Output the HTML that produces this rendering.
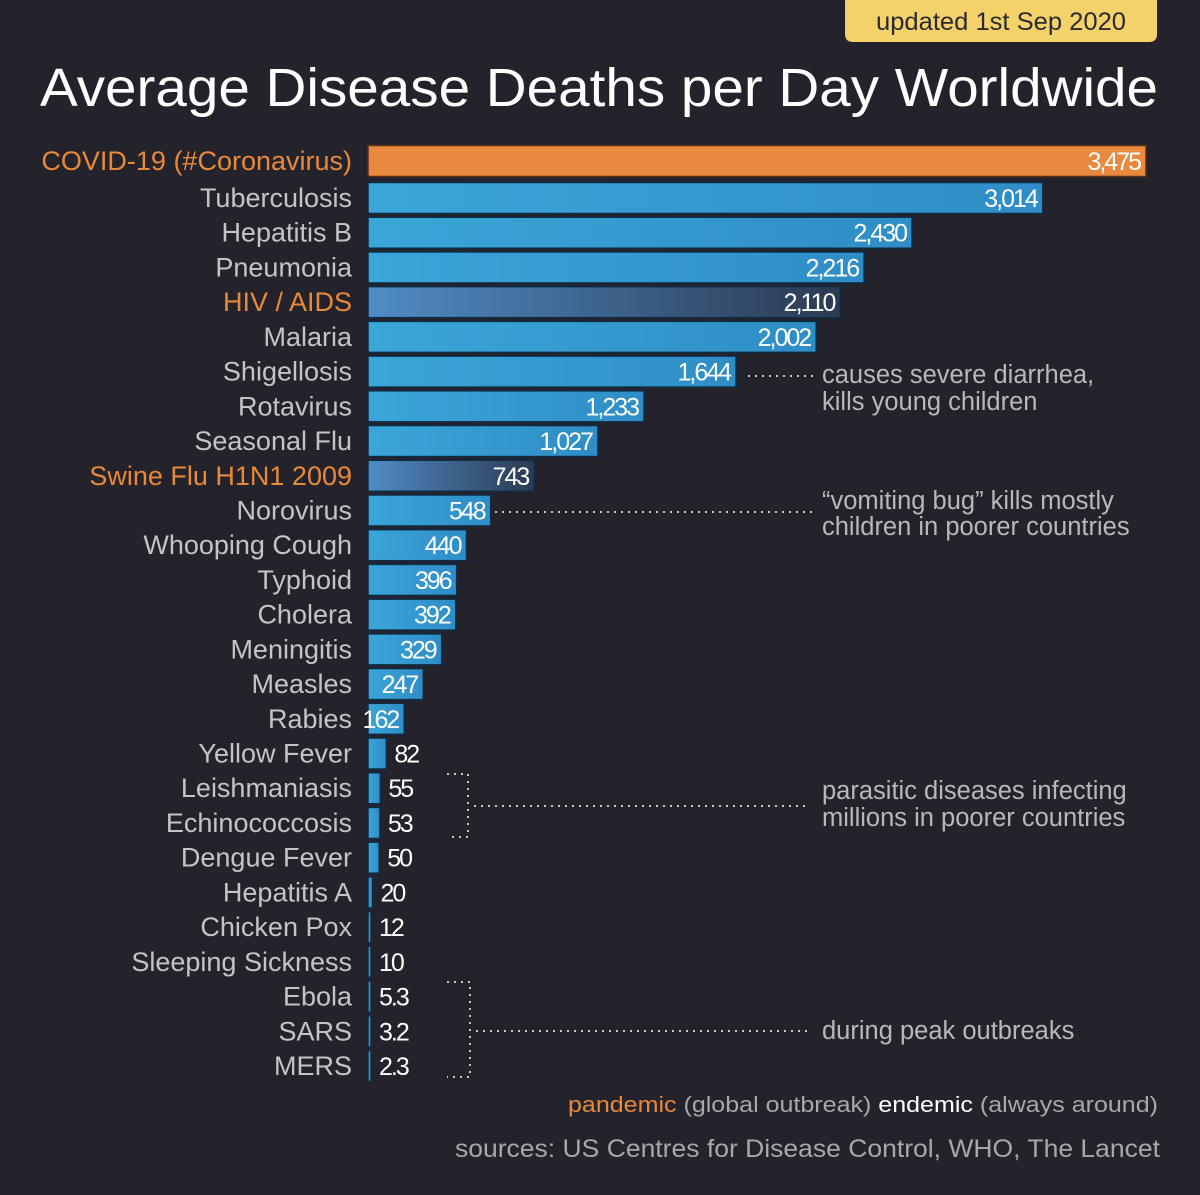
<!DOCTYPE html>
<html><head><meta charset="utf-8">
<style>
html,body{margin:0;padding:0;background:#24232c;}
svg{display:block;font-family:"Liberation Sans",sans-serif;}
.lbl{font-size:27px;fill:#c4c4c8;text-anchor:end;}
.val{font-family:"Liberation Sans Narrow","Liberation Sans",sans-serif;font-size:25px;fill:#fff;letter-spacing:-2px;}
.ann{font-size:25.5px;fill:#b8b8bc;}
.dot{stroke:#c8c8c8;stroke-width:2;stroke-dasharray:2 5;fill:none;}
</style></head>
<body>
<svg id="chart" width="1200" height="1195" viewBox="0 0 1200 1195" xmlns="http://www.w3.org/2000/svg">
<defs>
<linearGradient id="gBlue" x1="0" x2="1"><stop offset="0" stop-color="#3ba6d8"/><stop offset="1" stop-color="#2f8dc6"/></linearGradient>
<linearGradient id="gDark" x1="0" x2="1"><stop offset="0" stop-color="#4f8cc6"/><stop offset="1" stop-color="#2c3a52"/></linearGradient>
</defs>
<rect x="0" y="0" width="1200" height="1195" fill="#24232c"/>
<path d="M845 0 H1157 V34 Q1157 42 1149 42 H853 Q845 42 845 34 Z" fill="#f4d26a"/>
<text x="1001" y="30" font-size="25" fill="#2a2a30" text-anchor="middle" textLength="250" lengthAdjust="spacingAndGlyphs">updated 1st Sep 2020</text>
<text x="40" y="106" font-size="54" fill="#fff" textLength="1118" lengthAdjust="spacingAndGlyphs">Average Disease Deaths per Day Worldwide</text>
<g id="bars"></g>
<g>
<line class="dot" x1="748" y1="376" x2="815" y2="376"/>
<text class="ann" x="822" y="383">causes severe diarrhea,</text>
<text class="ann" x="822" y="410">kills young children</text>
<line class="dot" x1="495" y1="512" x2="812" y2="512"/>
<text class="ann" x="822" y="509">“vomiting bug” kills mostly</text>
<text class="ann" x="822" y="535">children in poorer countries</text>
<polyline class="dot" points="447,774 468,774 468,837 447,837"/>
<line class="dot" x1="474" y1="806" x2="810" y2="806"/>
<text class="ann" x="822" y="799">parasitic diseases infecting</text>
<text class="ann" x="822" y="826">millions in poorer countries</text>
<polyline class="dot" points="447,982 470,982 470,1077 447,1077"/>
<line class="dot" x1="476" y1="1031" x2="810" y2="1031"/>
<text class="ann" x="822" y="1039">during peak outbreaks</text>
</g>
<g font-size="22">
<text x="568" y="1112" textLength="590" lengthAdjust="spacingAndGlyphs"><tspan fill="#e8893a">pandemic</tspan><tspan fill="#a8a8ac"> (global outbreak)</tspan><tspan fill="#fff">   endemic</tspan><tspan fill="#a8a8ac"> (always around)</tspan></text>
</g>
<text x="455" y="1157" font-size="25" fill="#a8a8ac" textLength="705" lengthAdjust="spacingAndGlyphs">sources: US Centres for Disease Control, WHO, The Lancet</text>
</svg>
<script>
const categories = ["COVID-19 (#Coronavirus)","Tuberculosis","Hepatitis B","Pneumonia","HIV / AIDS","Malaria","Shigellosis","Rotavirus","Seasonal Flu","Swine Flu H1N1 2009","Norovirus","Whooping Cough","Typhoid","Cholera","Meningitis","Measles","Rabies","Yellow Fever","Leishmaniasis","Echinococcosis","Dengue Fever","Hepatitis A","Chicken Pox","Sleeping Sickness","Ebola","SARS","MERS"];
const values = [3475,3014,2430,2216,2110,2002,1644,1233,1027,743,548,440,396,392,329,247,162,82,55,53,50,20,12,10,5.3,3.2,2.3];
const valueLabels = ["3,475","3,014","2,430","2,216","2,110","2,002","1,644","1,233","1,027","743","548","440","396","392","329","247","162","82","55","53","50","20","12","10","5.3","3.2","2.3"];
const pandemic = [true,false,false,false,true,false,false,false,false,true,false,false,false,false,false,false,false,false,false,false,false,false,false,false,false,false,false];

const NS = "http://www.w3.org/2000/svg";
const x0 = 368, scale = 778 / 3475;
const xPos = v => x0 + Math.max(3, v * scale);
const yCenter = i => i === 0 ? 161 : 198 + (i - 1) * 34.72;
const g = document.getElementById('bars');
categories.forEach((c, i) => {
  const yc = yCenter(i), h = 31;
  const xe = xPos(values[i]);
  const r = document.createElementNS(NS, 'rect');
  
  
  r.setAttribute('x', x0); r.setAttribute('y', yc - h / 2);
  r.setAttribute('width', xe - x0); r.setAttribute('height', h);
  r.setAttribute('fill', i === 0 ? '#e8893f' : (pandemic[i] ? 'url(#gDark)' : 'url(#gBlue)'));
  r.setAttribute('stroke', i === 0 ? '#5a2e14' : '#0f2c46');
  r.setAttribute('stroke-width', '1.5');
  g.appendChild(r);
  const t = document.createElementNS(NS, 'text');
  
  
  t.setAttribute('class', 'lbl');
  t.setAttribute('x', 352); t.setAttribute('y', yc + 9);
  t.style.fill = pandemic[i] ? '#e8893a' : '';
  t.textContent = c;
  g.appendChild(t);
  const v = document.createElementNS(NS, 'text');
  
  
  v.setAttribute('class', 'val');
  v.setAttribute('y', yc + 9);
  if (values[i] >= 100) { v.setAttribute('x', xe - 6); v.setAttribute('text-anchor', 'end'); }
  else { v.setAttribute('x', xe + 8); }
  v.textContent = valueLabels[i];
  g.appendChild(v);
});
</script>
</body></html>
